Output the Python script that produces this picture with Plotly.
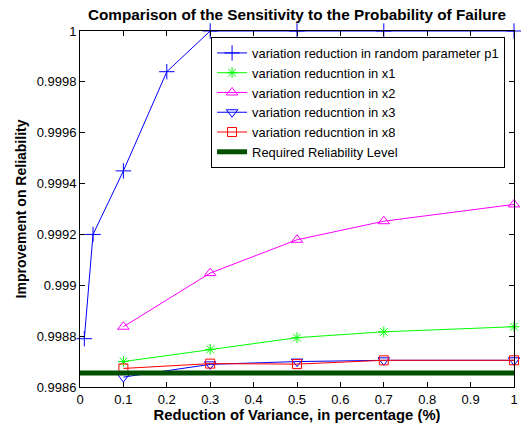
import plotly.graph_objects as go

# ---- data ----
x_p1 = [0.01, 0.03, 0.1, 0.2, 0.3, 0.5, 0.7, 1.0]
y_p1 = [0.99879, 0.9992, 0.99945, 0.99984, 1.0, 1.0, 1.0, 1.0]

x_var = [0.1, 0.3, 0.5, 0.7, 1.0]
y_x1 = [0.99870, 0.998748, 0.998794, 0.998817, 0.998837]
y_x2 = [0.998837, 0.999048, 0.999179, 0.999252, 0.999318]
y_x3 = [0.998639, 0.998689, 0.998700, 0.998705, 0.998705]
y_x8 = [0.998673, 0.998692, 0.998690, 0.998705, 0.998705]

x_req = [0.0, 1.0]
y_req = [0.998655, 0.998655]

x_ticks = [0, 0.1, 0.2, 0.3, 0.4, 0.5, 0.6, 0.7, 0.8, 0.9, 1]
x_ticktext = ["0", "0.1", "0.2", "0.3", "0.4", "0.5", "0.6", "0.7", "0.8", "0.9", "1"]
y_ticks = [0.9986, 0.9988, 0.999, 0.9992, 0.9994, 0.9996, 0.9998, 1.0]
y_ticktext = ["0.9986", "0.9988", "0.999", "0.9992", "0.9994", "0.9996", "0.9998", "1"]

names = ["variation reduction in random parameter p1",
         "variation reducntion in x1",
         "variation reducntion in x2",
         "variation reducntion in x3",
         "variation reducntion in x8",
         "Required Reliability Level"]

fig = go.Figure()

def add(x, y, name, color, symbol, size):
    fig.add_trace(go.Scatter(
        x=x, y=y, name=name, mode="lines+markers",
        line=dict(color=color, width=1),
        marker=dict(symbol=symbol, size=size, color=color,
                    line=dict(color=color, width=1)),
        cliponaxis=False))

add(x_p1, y_p1, names[0], "#0000FF", "cross-thin-open", 11)
add(x_var, y_x1, names[1], "#00FF00", "asterisk-open", 9)
add(x_var, y_x2, names[2], "#FF00FF", "triangle-up-open", 10)
add(x_var, y_x3, names[3], "#0000FF", "triangle-down-open", 10)
add(x_var, y_x8, names[4], "#FF0000", "square-open", 9)

fig.add_trace(go.Scatter(
    x=x_req, y=y_req, name=names[5], mode="lines",
    line=dict(color="#005000", width=5)))

font = "Arial, Liberation Sans, sans-serif"

fig.update_layout(
    width=521, height=427,
    margin=dict(l=80, r=7, t=31, b=40),
    paper_bgcolor="white", plot_bgcolor="white",
    font=dict(family=font, size=13, color="black"),
    title=dict(text="<b>Comparison of the Sensitivity to the Probability of Failure</b>",
               x=0.5, xanchor="center", xref="paper", y=0.965, yanchor="middle",
               font=dict(size=15.3, family=font)),
    showlegend=True,
    legend=dict(x=0.302, y=0.983, xanchor="left", yanchor="top",
                bgcolor="white", bordercolor="black", borderwidth=1,
                font=dict(size=12.9, family=font), tracegroupgap=0,
                itemwidth=30),
)

fig.update_xaxes(
    range=[0, 1], tickvals=x_ticks, ticktext=x_ticktext,
    ticks="inside", ticklen=5, tickcolor="black",
    showline=True, linecolor="black", linewidth=1, mirror="ticks",
    showgrid=False, zeroline=False, automargin=False,
    title=dict(text="<b>Reduction of Variance, in percentage (%)</b>",
               font=dict(size=14.8, family=font), standoff=3),
    tickfont=dict(size=13),
)
fig.update_yaxes(
    range=[0.9986, 1.0], tickvals=y_ticks, ticktext=y_ticktext,
    ticks="inside", ticklen=5, tickcolor="black",
    showline=True, linecolor="black", linewidth=1, mirror="ticks",
    showgrid=False, zeroline=False, automargin=False,
    title=dict(text="<b>Improvement on Reliability</b>",
               font=dict(size=14, family=font), standoff=6),
    tickfont=dict(size=13),
)

fig.write_html("out.html", config={"displayModeBar": False},
               post_script="document.body.style.margin='0';document.body.style.overflow='hidden';")
